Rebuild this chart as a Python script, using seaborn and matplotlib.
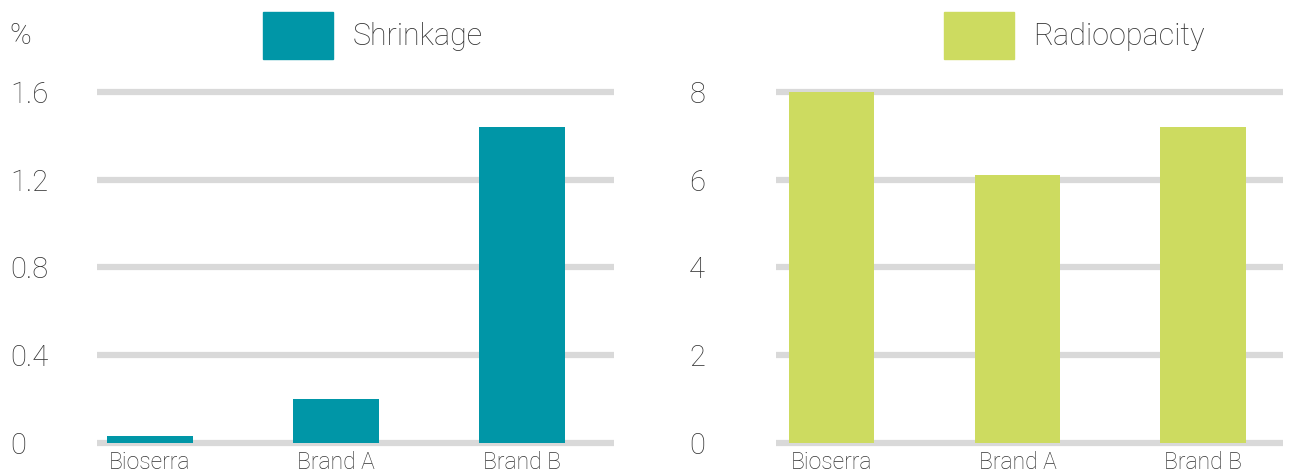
import matplotlib
matplotlib.use("Agg")
import matplotlib.pyplot as plt
import matplotlib.patches as mpatches
import seaborn as sns
import pandas as pd

# data
categories = ["Bioserra", "Brand A", "Brand B"]
shrinkage = [0.03, 0.2, 1.44]
radioopacity = [8.0, 6.1, 7.2]
shrink_ticks = [0, 0.4, 0.8, 1.2, 1.6]
shrink_labels = ["0", "0.4", "0.8", "1.2", "1.6"]
radio_ticks = [0, 2, 4, 6, 8]
radio_labels = ["0", "2", "4", "6", "8"]

TEAL = "#0096a7"
LIME = "#cddb60"
GRID = "#d9d9d9"
TEXT = "#333333"

sns.set_style("white")
plt.rcParams["font.family"] = ["Roboto", "DejaVu Sans"]
plt.rcParams["font.weight"] = "light"

fig = plt.figure(figsize=(12.95, 4.75), dpi=100)
ax1 = fig.add_axes([0.0749, 0.0581, 0.3992, 0.7575])
ax2 = fig.add_axes([0.5992, 0.0581, 0.3915, 0.7575])


def draw_panel(ax, values, color, ticks, labels, ylim, xlim):
    df = pd.DataFrame({"cat": categories, "val": values})
    sns.barplot(data=df, x="cat", y="val", color=color, saturation=1,
                width=0.46, linewidth=0, ax=ax, zorder=3)
    ax.set_xlim(*xlim)
    ax.set_ylim(*ylim)
    ax.set_yticks(ticks)
    ax.set_yticklabels(labels, fontsize=21, color=TEXT, ha="left",
                       fontweight="light")
    ax.tick_params(axis="y", length=0, pad=62.5)
    ax.tick_params(axis="x", length=0, pad=2.5)
    for lab in ax.get_xticklabels():
        lab.set_fontsize(16.5)
        lab.set_color(TEXT)
        lab.set_fontweight("light")
    # grid behind the bars
    for t in ticks:
        ax.axhline(t, color=GRID, lw=4.5, zorder=1)
    ax.set_xlabel("")
    ax.set_ylabel("")
    sns.despine(ax=ax, left=True, bottom=True)


draw_panel(ax1, shrinkage, TEAL, shrink_ticks, shrink_labels,
           (-0.02, 1.62), (-0.285, 2.495))
draw_panel(ax2, radioopacity, LIME, radio_ticks, radio_labels,
           (-0.1, 8.1), (-0.30, 2.43))

# legends above each panel
leg_kw = dict(frameon=False, loc="upper left", borderpad=0, borderaxespad=0,
              handlelength=2.3, handleheight=2.0, handletextpad=0.62,
              prop={"size": 22, "weight": "light"}, labelcolor=TEXT)
fig.legend(handles=[mpatches.Patch(color=TEAL, label="Shrinkage")],
           bbox_to_anchor=(0.2031, 0.9747), **leg_kw)
fig.legend(handles=[mpatches.Patch(color=LIME, label="Radioopacity")],
           bbox_to_anchor=(0.729, 0.9747), **leg_kw)

fig.text(9 / 1295, 1 - 36 / 475, "%", fontsize=21, color=TEXT,
         ha="left", va="center", fontweight="light")

fig.savefig("out.png", dpi=100)
